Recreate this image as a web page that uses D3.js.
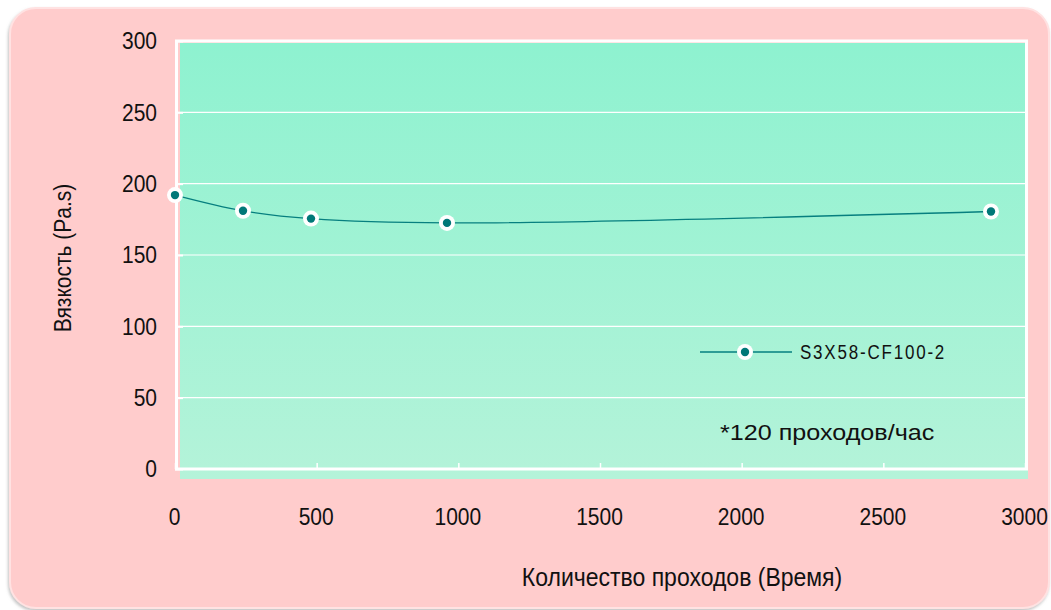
<!DOCTYPE html>
<html><head><meta charset="utf-8">
<script src="https://cdn.jsdelivr.net/npm/d3@7"></script>
<style>
body{margin:0;background:#fff}
svg{display:block}
text{font-family:"Liberation Sans",Arial,sans-serif;fill:#111}
</style>
</head><body>
<svg id="c" width="1051" height="610"></svg>
<script>
const passes = [0, 240, 480, 960, 2880];
const viscosity = [192, 181, 175.5, 172.5, 180.5];
const xTicks = [0, 500, 1000, 1500, 2000, 2500, 3000];
const yTicks = [0, 50, 100, 150, 200, 250, 300];
const seriesName = "S3X58-CF100-2";
const xTitle = "Количество проходов (Время)";
const yTitle = "Вязкость (Pa.s)";
const note = "*120 проходов/час";

const svg = d3.select("#c");
const defs = svg.append("defs");
const g1 = defs.append("linearGradient").attr("id","bg").attr("x1",0).attr("y1",0).attr("x2",0).attr("y2",1);
g1.append("stop").attr("offset","0%").attr("stop-color","#8ef2d0");
g1.append("stop").attr("offset","100%").attr("stop-color","#b4f3d9");
const f = defs.append("filter").attr("id","sh").attr("x","-5%").attr("y","-5%").attr("width","110%").attr("height","110%");
f.append("feDropShadow").attr("dx",-1).attr("dy",2).attr("stdDeviation",1.5).attr("flood-color","#888").attr("flood-opacity",0.5);

svg.append("rect").attr("x",10).attr("y",8).attr("width",1039).attr("height",600).attr("rx",26)
  .attr("fill","#ffcccc").attr("stroke","#ffe2e2").attr("stroke-width",2).attr("filter","url(#sh)");

const x = d3.scaleLinear().domain([0,3000]).range([175,1025]);
const y = d3.scaleLinear().domain([0,300]).range([469,41]);

svg.append("rect").attr("x",180).attr("y",43).attr("width",848).attr("height",436).attr("fill","url(#bg)");

// gridlines
svg.append("g").selectAll("line").data(yTicks.filter(v=>v>0 && v<300)).join("line")
  .attr("x1",x(0)).attr("x2",x(3000)).attr("y1",d=>y(d)).attr("y2",d=>y(d))
  .attr("stroke","#fff").attr("stroke-width",1.2);

// frame
svg.append("rect").attr("x",x(0)+1.5).attr("y",y(300)).attr("width",x(3000)-x(0)).attr("height",y(0)-y(300))
  .attr("fill","none").attr("stroke","#fff").attr("stroke-width",3);

const TS = 1.13;
const ya = svg.append("g").attr("transform",`translate(${x(0)},0)`)
  .call(d3.axisLeft(y).tickValues(yTicks).tickSize(-8).tickPadding(0).tickFormat(d3.format("d")));
ya.select(".domain").remove();
ya.selectAll("line").attr("stroke","#fff").attr("stroke-width",2);
ya.selectAll("text").attr("x",0).attr("dy",null).attr("y",0)
  .attr("font-size",21).attr("text-anchor","end").attr("dominant-baseline","central")
  .attr("transform",`translate(-18,0) scale(1,${TS})`);

const xa = svg.append("g").attr("transform",`translate(0,${y(0)})`)
  .call(d3.axisBottom(x).tickValues(xTicks).tickSize(-6).tickFormat(d3.format("d")));
xa.select(".domain").remove();
xa.selectAll("line").attr("stroke","#fff").attr("stroke-width",1.5);
xa.selectAll("text").attr("y",0).attr("dy",null)
  .attr("font-size",21).attr("text-anchor","middle").attr("dominant-baseline","central")
  .attr("transform",`translate(-1,48) scale(1,${TS})`);

// line
const pts = passes.map((p,i)=>[p,viscosity[i]]);
const line = d3.line().x(d=>x(d[0])).y(d=>y(d[1])).curve(d3.curveCatmullRom.alpha(0.5));
svg.append("path").attr("d",line(pts)).attr("fill","none").attr("stroke","#067f7f").attr("stroke-width",1.3);
const mk = svg.append("g").selectAll("g").data(pts).join("g")
  .attr("transform",d=>`translate(${x(d[0])},${y(d[1])})`);
mk.append("circle").attr("r",8).attr("fill","#fff");
mk.append("circle").attr("r",4.2).attr("fill","#007878");

// legend
const lg = svg.append("g").attr("transform","translate(700,352)");
lg.append("line").attr("x1",0).attr("x2",92).attr("stroke","#067f7f").attr("stroke-width",1.3);
lg.append("circle").attr("cx",45).attr("r",8).attr("fill","#fff");
lg.append("circle").attr("cx",45).attr("r",4.2).attr("fill","#007878");
lg.append("text").attr("x",0).attr("y",0).attr("dominant-baseline","central").attr("font-size",17)
  .attr("letter-spacing",1.8)
  .attr("transform",`translate(100,0) scale(1,1.15)`).text(seriesName);

svg.append("text").attr("dominant-baseline","central").attr("font-size",23.5)
  .attr("transform",`translate(720,432) scale(1.07,0.97)`).text(note);

svg.append("text").attr("text-anchor","middle").attr("dominant-baseline","central").attr("font-size",23)
  .attr("transform",`translate(682,577) scale(1,1.13)`).text(xTitle);

svg.append("text").attr("text-anchor","middle").attr("dominant-baseline","central").attr("font-size",21)
  .attr("transform",`translate(63,258) rotate(-90) scale(1,1.12)`).text(yTitle);
</script>
</body></html>
